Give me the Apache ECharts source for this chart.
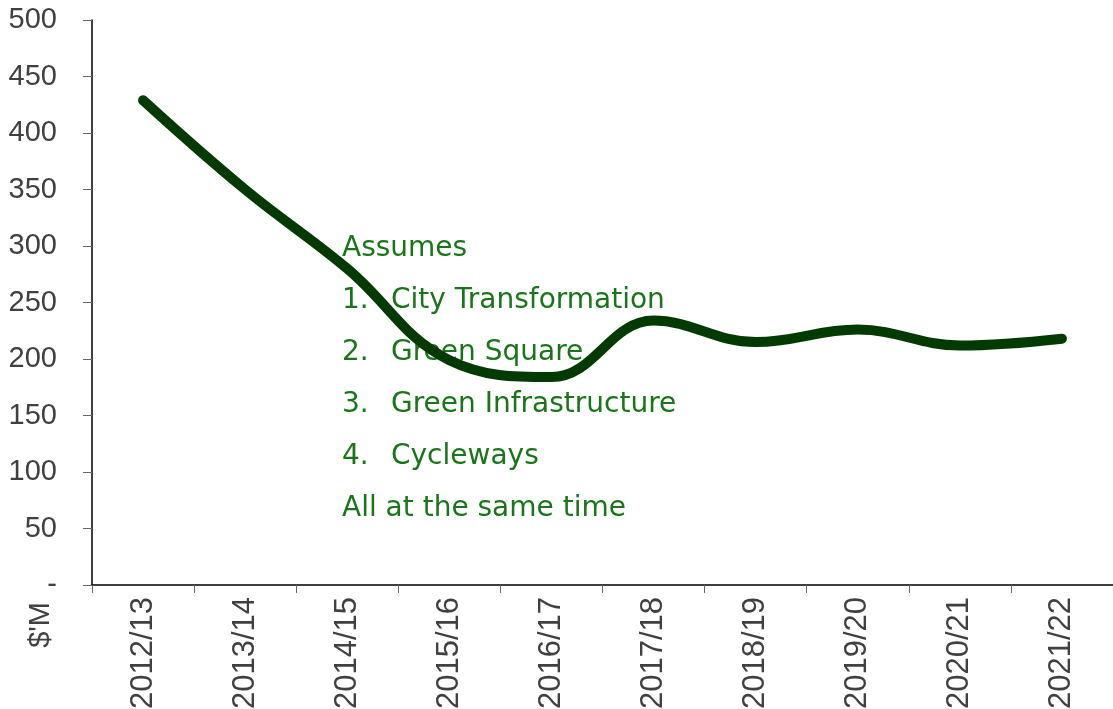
<!DOCTYPE html>
<html>
<head>
<meta charset="utf-8">
<script src="https://cdn.jsdelivr.net/npm/echarts@6/dist/echarts.min.js"></script>
<style>
  html, body { margin: 0; padding: 0; background: #fff; }
  #main { width: 1113px; height: 709px; }
</style>
</head>
<body>
<div id="main"></div>
<script>
// financial years and the spend line ($M)
var years = ['2012/13', '2013/14', '2014/15', '2015/16', '2016/17', '2017/18', '2018/19', '2019/20', '2020/21', '2021/22'];
var spend = [429, 350, 280, 199, 184, 234, 215, 226, 212, 218];
var noteNums = ['1.', '2.', '3.', '4.'];
var noteItems = ['City Transformation', 'Green Square', 'Green Infrastructure', 'Cycleways'];

var noteColor = '#1a751a';
var noteFont = '28px "DejaVu Sans"';

var graphics = [
  { type: 'text', left: 342, top: 235, style: { text: 'Assumes', font: noteFont, fill: noteColor } },
  { type: 'text', left: 342, top: 495, style: { text: 'All at the same time', font: noteFont, fill: noteColor } },
  { type: 'text', left: 26, top: 602, rotation: Math.PI / 2, style: { text: "$'M", font: '29px "Liberation Sans"', fill: '#404040' } }
];
for (var i = 0; i < noteNums.length; i++) {
  graphics.push({ type: 'text', left: 342, top: 287 + i * 52, style: { text: noteNums[i], font: noteFont, fill: noteColor } });
  graphics.push({ type: 'text', left: 391, top: 287 + i * 52, style: { text: noteItems[i], font: noteFont, fill: noteColor } });
}

var myChart = echarts.init(document.getElementById('main'));
myChart.setOption({
  animation: false,
  grid: { left: 92, right: 0, top: 20, bottom: 124, outerBoundsMode: 'none', containLabel: false },
  xAxis: {
    type: 'category',
    data: years,
    boundaryGap: true,
    axisLine: { lineStyle: { color: '#000', width: 1.5 } },
    axisTick: { show: true, length: 8, lineStyle: { color: '#666' } },
    axisLabel: {
      rotate: 90,
      margin: 12,
      fontFamily: 'Liberation Sans',
      fontSize: 31,
      color: '#404040'
    }
  },
  yAxis: {
    type: 'value',
    min: 0,
    max: 500,
    interval: 50,
    splitLine: { show: false },
    axisLine: { show: true, lineStyle: { color: '#000', width: 1.5 } },
    axisTick: { show: true, length: 9, lineStyle: { color: '#666' } },
    axisLabel: {
      margin: 35,
      fontFamily: 'Liberation Sans',
      fontSize: 29,
      color: '#404040',
      formatter: function (v) { return v === 0 ? '-' : v; }
    }
  },
  series: [
    {
      type: 'line',
      data: spend,
      smooth: 0.4,
      showSymbol: false,
      lineStyle: { color: '#023a02', width: 10, cap: 'round' },
      z: 1
    }
  ],
  graphic: graphics
});
</script>
</body>
</html>
